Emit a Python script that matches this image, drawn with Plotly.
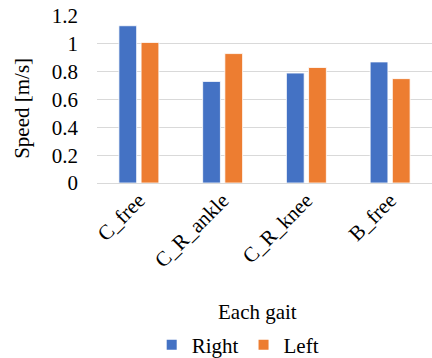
import plotly.graph_objects as go

categories = ["C_free", "C_R_ankle", "C_R_knee", "B_free"]
right_speed = [1.13, 0.73, 0.79, 0.87]
left_speed = [1.01, 0.93, 0.83, 0.75]
y_ticks = [0, 0.2, 0.4, 0.6, 0.8, 1.0, 1.2]
y_tick_labels = ["0", "0.2", "0.4", "0.6", "0.8", "1", "1.2"]

FONT = "Liberation Serif"
FS = 21

fig = go.Figure()
fig.add_trace(go.Bar(name="Right", x=categories, y=right_speed,
                     marker=dict(color="#4472C4", line=dict(color="white", width=0.8))))
fig.add_trace(go.Bar(name="Left", x=categories, y=left_speed,
                     marker=dict(color="#ED7D31", line=dict(color="white", width=0.8))))

fig.update_layout(
    width=432, height=358,
    margin=dict(l=97, r=0, t=16, b=175, autoexpand=False),
    paper_bgcolor="white", plot_bgcolor="white",
    font=dict(family=FONT, size=FS, color="black"),
    barmode="group", bargap=0.47, bargroupgap=0.2,
    showlegend=True,
    legend=dict(orientation="h", x=0.42, xanchor="center", y=-0.97, yanchor="middle",
                font=dict(family=FONT, size=FS), itemwidth=30, tracegroupgap=0,
                itemsizing="constant"),
    xaxis=dict(tickangle=-45, showgrid=False, showline=False, ticks="",
               automargin=False, tickfont=dict(family=FONT, size=FS)),
    yaxis=dict(range=[0, 1.2], tickvals=y_ticks, ticktext=y_tick_labels,
               showgrid=True, gridcolor="#D9D9D9", gridwidth=1.3,
               zeroline=True, zerolinecolor="#D9D9D9", zerolinewidth=1.3,
               showline=False, ticks="", ticklabelstandoff=18, automargin=False,
               tickfont=dict(family=FONT, size=FS)),
    annotations=[
        dict(text="Each gait", xref="paper", yref="paper", x=0.48, y=-0.775,
             xanchor="center", yanchor="middle", showarrow=False,
             font=dict(family=FONT, size=FS)),
        dict(text="Speed [m/s]", xref="paper", yref="paper", x=-0.224, y=0.45,
             xanchor="center", yanchor="middle", showarrow=False, textangle=-90,
             font=dict(family=FONT, size=FS)),
    ],
)

fig.write_html("out.html", config={"displayModeBar": False},
               post_script="document.body.style.margin='0';document.body.style.overflow='hidden';")
